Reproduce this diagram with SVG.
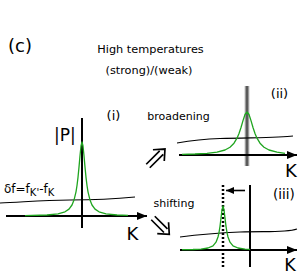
<svg xmlns="http://www.w3.org/2000/svg" width="300" height="275" viewBox="0 0 300 275">
<defs>
<style>
text{font-family:"DejaVu Sans","Liberation Sans",sans-serif;fill:#000}
.ax{stroke:#000;stroke-width:2;fill:none}
.wv{stroke:#000;stroke-width:1.1;fill:none}
.gr{stroke:#1fa51f;stroke-width:1.3;fill:none;stroke-linejoin:round}
.da{stroke:#000;stroke-width:1.7;fill:none}
</style>
<marker id="ah" markerWidth="10" markerHeight="8" refX="10" refY="4" orient="auto" markerUnits="userSpaceOnUse">
<path d="M0,0 L10,4 L0,8 Z" fill="#000"/>
</marker>
<marker id="ah2" markerWidth="8" markerHeight="7" refX="8" refY="3.5" orient="auto" markerUnits="userSpaceOnUse">
<path d="M0,0 L8,3.5 L0,7 Z" fill="#000"/>
</marker>
<linearGradient id="bar" x1="0" x2="1" y1="0" y2="0">
<stop offset="0" stop-color="#c8c8c8"/>
<stop offset="0.35" stop-color="#777"/>
<stop offset="0.5" stop-color="#222"/>
<stop offset="0.65" stop-color="#777"/>
<stop offset="1" stop-color="#c8c8c8"/>
</linearGradient>
</defs>
<rect width="300" height="275" fill="#fff"/>

<g id="titles">
<text x="8" y="52" font-size="18">(c)</text>
<text x="150.5" y="53" font-size="11.3" text-anchor="middle">High temperatures</text>
<text x="149" y="74" font-size="11.3" text-anchor="middle">(strong)/(weak)</text>
</g>

<g id="panel-i">
<line class="ax" x1="6" y1="216" x2="147" y2="216" marker-end="url(#ah)"/>
<line class="ax" x1="82" y1="118" x2="82" y2="228"/>
<path class="wv" d="M0,203 C20,202.5 40,200 70,200 C100,200 115,199 135,197"/>
<polyline class="gr" points="25,215.6 47,215 58,213.8 65,211.8 69,209.1 72,205 74,200.1 76,191.8 77,185.5 78,177.3 79,167.1 80,155.8 81,146 82,142 83,146 84,155.8 85,167.1 86,177.3 87,185.5 88,191.8 90,200.1 92,205 95,209.1 99,211.8 106,213.8 117,215 128,215.4"/>
<text x="54" y="141" font-size="17">|P|</text>
<text x="113.5" y="120" font-size="13" text-anchor="middle">(i)</text>
<text x="132.5" y="240" font-size="18" text-anchor="middle">K</text>
<text x="4" y="193" font-size="12">δf=f<tspan font-size="10" dy="3">K'</tspan><tspan dy="-3">-f</tspan><tspan font-size="10" dy="3">K</tspan></text>
</g>

<g id="panel-ii">
<rect x="244.5" y="86" width="5" height="80" fill="url(#bar)"/>
<line class="ax" x1="179" y1="155" x2="297" y2="155" marker-end="url(#ah)"/>
<path class="wv" d="M177,143 C188,141 200,139 220,138.5 C250,137.5 280,138 293,136"/>
<polyline class="gr" points="182,154.4 195,154 207,153.3 217,152.1 225,150 230,147.2 234,143.2 237,138.2 239,133.5 241,127.5 243,120.6 245,114.5 247,112 249,114.5 251,120.6 253,127.5 255,133.5 257,138.2 260,143.2 264,147.2 269,150 277,152.1 285,153.3"/>
<text x="279.5" y="98" font-size="13" text-anchor="middle">(ii)</text>
<text x="291" y="177" font-size="18" text-anchor="middle">K</text>
</g>

<g id="panel-iii">
<line class="ax" x1="180" y1="250" x2="297" y2="250" marker-end="url(#ah)"/>
<line class="ax" x1="250" y1="185" x2="250" y2="267"/>
<line x1="223" y1="185" x2="223" y2="268" stroke="#000" stroke-width="2.5" stroke-dasharray="2,2"/>
<line x1="245" y1="190.5" x2="226" y2="190.5" stroke="#000" stroke-width="1.6" marker-end="url(#ah2)"/>
<path class="wv" d="M180,237 C195,235 215,233 240,232 C265,231 285,233 297,229"/>
<polyline class="gr" points="182,249.7 193,249.5 201,249.1 208,248 213,245.8 216,242.2 218,237 219,232.6 220,226.3 221,218.1 222,209.8 223,206 224,209.8 225,218.1 226,226.3 227,232.6 228,237 230,242.2 233,245.8 238,248 245,249.1 250,249.4"/>
<text x="284" y="199" font-size="13.5" text-anchor="middle">(iii)</text>
<text x="290" y="271" font-size="17.5" text-anchor="middle">K</text>
</g>

<g id="connectors">
<path class="da" transform="translate(148,166) rotate(-45)" d="M0,-2.5 L19,-2.5 M0,2.5 L19,2.5 M15,-8 L24,0 L15,8"/>
<path class="da" transform="translate(153,218) rotate(45)" d="M0,-2.5 L18,-2.5 M0,2.5 L18,2.5 M14,-8 L23,0 L14,8"/>
<text x="178.5" y="120" font-size="11" text-anchor="middle">broadening</text>
<text x="174" y="207" font-size="11" text-anchor="middle">shifting</text>
</g>
</svg>
